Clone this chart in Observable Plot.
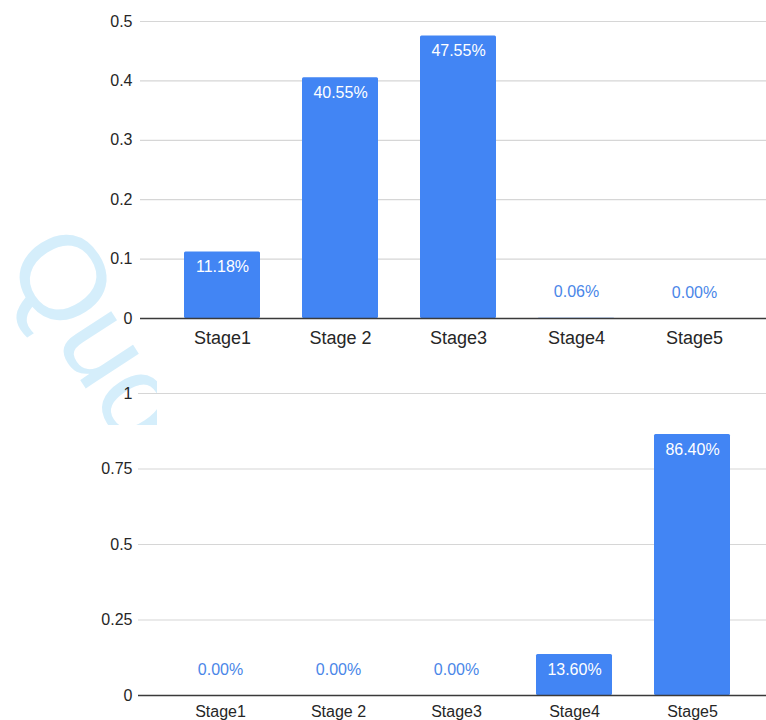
<!DOCTYPE html>
<html>
<head>
<meta charset="utf-8">
<script src="https://cdn.jsdelivr.net/npm/d3@7"></script>
<script src="https://cdn.jsdelivr.net/npm/@observablehq/plot@0.6"></script>
<style>
  html, body { margin: 0; padding: 0; background: #fff; }
  #page { position: relative; width: 766px; height: 720px; overflow: hidden; font-family: "Liberation Sans", Arial, sans-serif; }
  #page svg { display: block; }
  #mark { position: absolute; left: 0; top: 0; z-index: 0; pointer-events: none; }
  #charts { position: relative; z-index: 1; }
</style>
</head>
<body>
<div id="page">
  <svg id="mark" width="157" height="425">
    <text x="3" y="261" transform="rotate(57 3 261)" font-family="Liberation Sans, Arial, sans-serif" font-size="120" fill="#d5eefb">Quo</text>
  </svg>
  <div id="charts"></div>
</div>
<script>
// Stage shares for the two distributions
const stages = ["Stage1", "Stage 2", "Stage3", "Stage4", "Stage5"];
const shareTop = [0.1118, 0.4055, 0.4755, 0.0006, 0.0000];
const shareBottom = [0.0000, 0.0000, 0.0000, 0.1360, 0.8640];
const ticksTop = [0, 0.1, 0.2, 0.3, 0.4, 0.5];
const ticksBottom = [0, 0.25, 0.5, 0.75, 1];

const BLUE = "#4285f4";
const pct = v => (v * 100).toFixed(2) + "%";

function panel({values, ticks, marginTop, marginBottom, marginLeft, xRange, xFont, xPad, yPad}) {
  const rows = stages.map((stage, i) => ({stage, value: values[i]}));
  const big = rows.filter(d => d.value >= 0.05);
  const small = rows.filter(d => d.value < 0.05);
  return Plot.plot({
    width: 766,
    height: 360,
    marginTop,
    marginBottom,
    marginLeft,
    marginRight: 0,
    style: {fontFamily: "Liberation Sans, Arial, sans-serif", color: "#262626", background: "transparent"},
    x: {domain: stages, range: xRange, paddingInner: 0.36, paddingOuter: 0.18, label: null},
    y: {domain: [ticks[0], ticks[ticks.length - 1]], label: null},
    marks: [
      Plot.ruleY(ticks.filter(t => t > 0), {stroke: "#d6d6d6", strokeWidth: 1.2}),
      Plot.barY(rows, {x: "stage", y: "value", fill: BLUE, rx: 1.5}),
      Plot.ruleY([0], {stroke: "#3a3a3a", strokeWidth: 1.3}),
      Plot.text(big, {x: "stage", y: "value", text: d => pct(d.value), dy: 15, fill: "#fff", fontSize: 16}),
      Plot.text(small, {x: "stage", y: "value", text: d => pct(d.value), dy: -26, fill: "#4a86e8", fontSize: 16}),
      Plot.axisY({ticks, tickSize: 0, tickPadding: yPad, tickFormat: d => String(d), fontSize: 16, label: null}),
      Plot.axisX({tickSize: 0, tickPadding: xPad, fontSize: xFont, label: null})
    ]
  });
}

const host = document.getElementById("charts");
host.append(
  panel({values: shareTop, ticks: ticksTop, marginTop: 21, marginBottom: 42, marginLeft: 140,
         xRange: [162.4, 753.6], xFont: 18, xPad: 13, yPad: 8}),
  panel({values: shareBottom, ticks: ticksBottom, marginTop: 33, marginBottom: 25, marginLeft: 138,
         xRange: [160, 751], xFont: 16, xPad: 10, yPad: 6})
);
</script>
</body>
</html>
